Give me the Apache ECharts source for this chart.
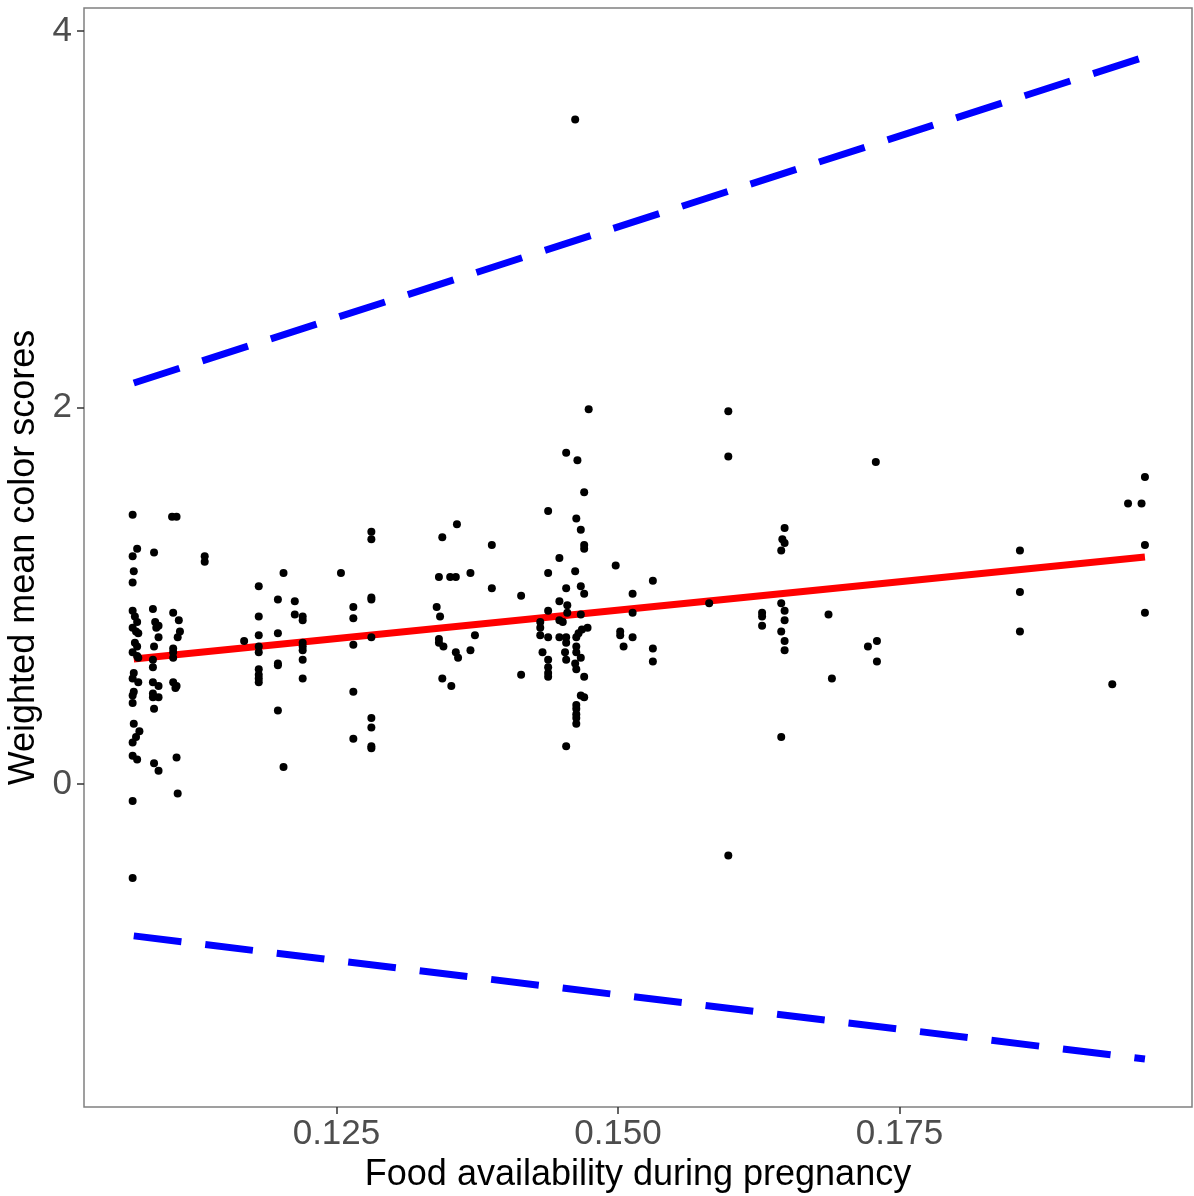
<!DOCTYPE html>
<html>
<head>
<meta charset="utf-8">
<script src="https://cdn.jsdelivr.net/npm/echarts@6/dist/echarts.min.js"></script>
<style>
html,body{margin:0;padding:0;background:#fff;}
#chart{width:1194px;height:1196px;}
</style>
</head>
<body>
<div id="chart"></div>
<script>
const xTicks = [0.125, 0.150, 0.175];
const yTicks = [0, 2, 4];
const xTitle = 'Food availability during pregnancy';
const yTitle = 'Weighted mean color scores';

const points = [
  [0.1069,1.43],[0.1073,1.25],[0.1069,1.21],[0.1070,1.13],[0.1069,1.07],[0.1069,0.92],[0.1071,0.89],[0.1073,0.86],
  [0.1069,0.83],[0.1072,0.81],[0.1074,0.80],[0.1071,0.75],[0.1073,0.73],[0.1069,0.70],[0.1073,0.68],[0.1074,0.67],
  [0.1070,0.59],[0.1069,0.56],[0.1074,0.54],[0.1070,0.49],[0.1069,0.47],[0.1069,0.43],[0.1070,0.32],[0.1075,0.28],
  [0.1072,0.25],[0.1069,0.22],[0.1069,0.15],[0.1073,0.13],[0.1069,-0.09],[0.1069,-0.50],
  [0.1088,1.23],[0.1087,0.93],[0.1089,0.86],[0.1092,0.84],[0.1090,0.83],[0.1092,0.78],[0.1088,0.73],[0.1087,0.66],
  [0.1087,0.62],[0.1087,0.54],[0.1092,0.52],[0.1087,0.48],[0.1087,0.46],[0.1092,0.46],[0.1088,0.40],[0.1088,0.11],[0.1092,0.07],
  [0.1104,1.42],[0.1108,1.42],[0.1105,0.91],[0.1110,0.87],[0.1111,0.81],[0.1109,0.78],[0.1105,0.72],[0.1105,0.70],
  [0.1105,0.67],[0.1105,0.54],[0.1107,0.51],[0.1108,0.52],[0.1108,0.14],[0.1109,-0.05],
  [0.1133,1.21],[0.1133,1.18],
  [0.1168,0.76],
  [0.1181,1.05],[0.1181,0.89],[0.1181,0.79],[0.1181,0.73],[0.1181,0.70],[0.1181,0.61],[0.1181,0.58],[0.1181,0.56],[0.1181,0.54],
  [0.1198,0.98],[0.1198,0.80],[0.1198,0.64],[0.1198,0.63],[0.1198,0.39],[0.1203,1.12],[0.1203,0.09],
  [0.1213,0.97],[0.1213,0.90],
  [0.1220,0.89],[0.1220,0.87],[0.1220,0.75],[0.1220,0.73],[0.1220,0.71],[0.1220,0.66],[0.1220,0.56],
  [0.1254,1.12],
  [0.1265,0.94],[0.1265,0.88],[0.1265,0.74],[0.1265,0.49],[0.1265,0.24],
  [0.1281,1.34],[0.1281,1.30],[0.1281,0.99],[0.1281,0.98],[0.1281,0.78],[0.1281,0.35],[0.1281,0.30],[0.1281,0.20],[0.1281,0.19],
  [0.1357,1.38],[0.1344,1.31],[0.1341,1.10],[0.1351,1.10],[0.1356,1.10],[0.1369,1.12],[0.1339,0.94],[0.1342,0.89],
  [0.1373,0.79],[0.1341,0.77],[0.1341,0.75],[0.1345,0.73],[0.1356,0.70],[0.1358,0.67],[0.1369,0.71],[0.1344,0.56],[0.1352,0.52],
  [0.1388,1.27],[0.1388,1.04],[0.1414,1.00],[0.1414,0.58],
  [0.1474,1.99],[0.1454,1.76],[0.1464,1.72],[0.1470,1.55],[0.1438,1.45],[0.1463,1.41],[0.1467,1.35],[0.1470,1.27],
  [0.1470,1.25],[0.1448,1.20],[0.1438,1.12],[0.1462,1.13],[0.1454,1.04],[0.1467,1.05],[0.1470,1.01],[0.1448,0.97],
  [0.1455,0.95],[0.1455,0.91],[0.1438,0.92],[0.1467,0.90],[0.1448,0.87],[0.1451,0.86],[0.1431,0.86],[0.1431,0.83],
  [0.1473,0.83],[0.1468,0.82],[0.1465,0.80],[0.1431,0.79],[0.1438,0.78],[0.1448,0.78],[0.1454,0.78],[0.1454,0.75],
  [0.1463,0.78],[0.1463,0.73],[0.1463,0.70],[0.1433,0.70],[0.1438,0.66],[0.1453,0.70],[0.1454,0.66],[0.1467,0.67],
  [0.1462,0.64],[0.1463,0.61],[0.1438,0.62],[0.1438,0.59],[0.1438,0.57],[0.1470,0.57],[0.1467,0.47],[0.1470,0.46],
  [0.1463,0.42],[0.1463,0.40],[0.1463,0.37],[0.1463,0.35],[0.1463,0.32],[0.1454,0.20],[0.1462,3.53],
  [0.1498,1.16],[0.1531,1.08],[0.1513,1.01],[0.1513,0.91],[0.1502,0.81],[0.1502,0.79],[0.1505,0.73],[0.1513,0.78],
  [0.1531,0.72],[0.1531,0.65],
  [0.1581,0.96],
  [0.1598,1.98],[0.1598,1.74],[0.1598,-0.38],
  [0.1628,0.91],[0.1628,0.89],[0.1628,0.84],
  [0.1648,1.36],[0.1646,1.30],[0.1648,1.28],[0.1645,1.24],[0.1645,0.96],[0.1648,0.92],[0.1648,0.87],[0.1645,0.81],
  [0.1648,0.76],[0.1648,0.71],[0.1645,0.25],
  [0.1687,0.90],[0.1690,0.56],
  [0.1729,1.71],[0.1730,0.76],[0.1722,0.73],[0.1730,0.65],
  [0.1857,1.24],[0.1857,1.02],[0.1857,0.81],
  [0.1939,0.53],
  [0.1953,1.49],[0.1965,1.49],[0.1968,1.63],[0.1968,1.27],[0.1968,0.91]
];

const fitLine = [[0.1070,0.664],[0.1968,1.206]];
const upperLine = [[0.1070,2.13],[0.1968,3.862]];
const lowerLine = [[0.1070,-0.807],[0.1968,-1.461]];

const xRange = [0.10258, 0.20098];
const yRange = [-1.716, 4.122];

const chart = echarts.init(document.getElementById('chart'), null, {renderer:'canvas'});
const font = 'Liberation Sans, Arial, sans-serif';
chart.setOption({
  animation: false,
  backgroundColor: '#fff',
  grid: {left: 84, right: 2, top: 8, bottom: 89, containLabel: false, outerBoundsMode: 'none',
    show: true, borderColor: '#808080', borderWidth: 1.5, backgroundColor: 'transparent'},
  xAxis: {
    type: 'value', min: xRange[0], max: xRange[1],
    name: xTitle, nameLocation: 'middle', nameGap: 45,
    nameTextStyle: {color: '#000', fontSize: 36, fontFamily: font},
    axisLine: {show: false, onZero: false},
    splitLine: {show: false},
    axisTick: {show: true, length: 7, lineStyle: {color: '#333', width: 1.5}, customValues: xTicks},
    axisLabel: {color: '#4d4d4d', fontSize: 35, fontFamily: font, margin: 10, customValues: xTicks,
      formatter: v => v.toFixed(3)}
  },
  yAxis: {
    type: 'value', min: yRange[0], max: yRange[1],
    name: yTitle, nameLocation: 'middle', nameGap: 33, nameRotate: 90,
    nameTextStyle: {color: '#000', fontSize: 36, fontFamily: font},
    axisLine: {show: false, onZero: false},
    splitLine: {show: false},
    axisTick: {show: true, length: 7, lineStyle: {color: '#333', width: 1.5}, customValues: yTicks},
    axisLabel: {color: '#4d4d4d', fontSize: 35, fontFamily: font, margin: 12, customValues: yTicks,
      formatter: v => String(v)}
  },
  series: [
    {type: 'scatter', data: points, symbolSize: 8, itemStyle: {color: '#000', opacity: 1}, z: 3},
    {type: 'line', data: fitLine, showSymbol: false, symbol: 'none', lineStyle: {color: '#ff0000', width: 7}, z: 2},
    {type: 'line', data: upperLine, showSymbol: false, symbol: 'none', lineStyle: {color: '#0000ff', width: 7, type: [48, 24]}, z: 2},
    {type: 'line', data: lowerLine, showSymbol: false, symbol: 'none', lineStyle: {color: '#0000ff', width: 7, type: [48, 24]}, z: 2}
  ]
});
</script>
</body>
</html>
